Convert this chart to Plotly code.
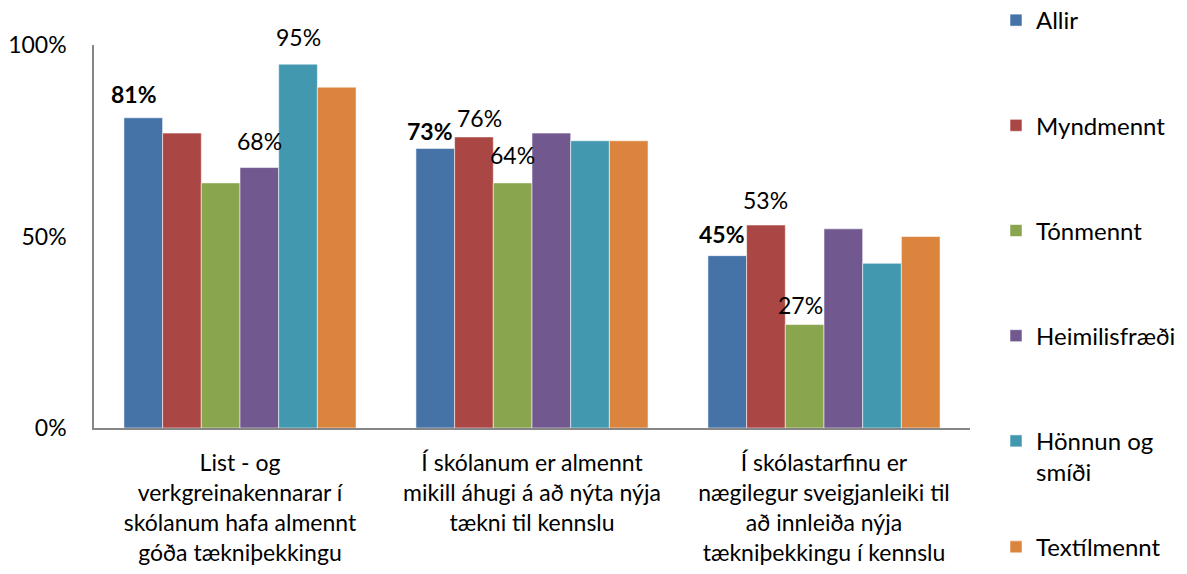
import plotly.graph_objects as go

categories = [
    "List - og<br>verkgreinakennarar í<br>skólanum hafa almennt<br>góða tækniþekkingu",
    "Í skólanum er almennt<br>mikill áhugi á að nýta nýja<br>tækni til kennslu",
    "Í skólastarfinu er<br>nægilegur sveigjanleiki til<br>að innleiða nýja<br>tækniþekkingu í kennslu",
]
series_names = ["Allir", "Myndmennt", "Tónmennt", "Heimilisfræði", "Hönnun og smíði", "Textílmennt"]
legend_names = ["Allir", "Myndmennt", "Tónmennt", "Heimilisfræði", "Hönnun og<br>smíði", "Textílmennt"]

allir = [81, 73, 45]
myndmennt = [77, 76, 53]
tonmennt = [64, 64, 27]
heimilisfraedi = [68, 77, 52]
honnun_smidi = [95, 75, 43]
textilmennt = [89, 75, 50]
values = [allir, myndmennt, tonmennt, heimilisfraedi, honnun_smidi, textilmennt]

y_tick_vals = [0, 50, 100]
y_tick_text = ["0%", "50%", "100%"]

# which bars carry a value label
show_label = [
    [True, True, True],
    [False, True, True],
    [False, True, True],
    [True, False, False],
    [True, False, False],
    [False, False, False],
]

# styling
colors = ["#4572A7", "#AA4643", "#89A54E", "#71588F", "#4198AF", "#DB843D"]
legend_ids = ["legend", "legend", "legend", "legend", "legend", "legend2"]
label_shift = [
    [(-9, 24), (-5, 17), (-5, 22)],
    [None, (6, 19), (0, 25)],
    [None, (0, 28), (-4, 20)],
    [(0, 27), None, None],
    [(0, 27), None, None],
    [None, None, None],
]
FONT = "Lato"
BARGAP = 0.205
W, H = 1179, 566  # page adds an 8px body margin

fig = go.Figure()
for i, (name, lname, vals) in enumerate(zip(series_names, legend_names, values)):
    fig.add_trace(go.Bar(
        x=categories, y=vals, name=lname, legendgroup=name, legend=legend_ids[i],
        marker=dict(color=colors[i], line=dict(color="rgba(255,255,255,0.55)", width=1)),
        hoverinfo="y+name",
    ))

n = len(series_names)
w = (1 - BARGAP) / n
annotations = []
for i, vals in enumerate(values):
    for j, v in enumerate(vals):
        if show_label[i][j]:
            xs, ys = label_shift[i][j]
            txt = f"{v}%"
            if i == 0:
                txt = f"<b>{txt}</b>"
            annotations.append(dict(
                x=j + (i - (n - 1) / 2) * w, y=v, xref="x", yref="y",
                text=txt, showarrow=False, xshift=xs, yshift=ys,
                yanchor="middle", xanchor="center",
                font=dict(family=FONT, size=23, color="#000000"),
            ))

legend_style = dict(
    xref="container", x=0.838,
    xanchor="left", yanchor="top",
    font=dict(family=FONT, size=24, color="#000000"),
    valign="top", traceorder="grouped",
    bgcolor="rgba(0,0,0,0)", maxheight=H,
)

fig.update_layout(
    width=W, height=H,
    margin=dict(l=86, r=217, t=37, b=146, autoexpand=False),
    paper_bgcolor="white", plot_bgcolor="white",
    barmode="group", bargap=BARGAP, bargroupgap=0,
    font=dict(family=FONT, size=23, color="#000000"),
    annotations=annotations,
    legend=dict(legend_style, yref="paper", y=1.1227, tracegroupgap=71),
    legend2=dict(legend_style, yref="container", y=0.087),
)
fig.update_xaxes(
    showline=True, linecolor="#868686", linewidth=1.5, automargin=False,
    showgrid=False, ticks="", ticklabelstandoff=14,
    tickfont=dict(family=FONT, size=23, color="#000000"),
)
fig.update_yaxes(
    range=[0, 100], tickmode="array", tickvals=y_tick_vals, ticktext=y_tick_text,
    showline=True, linecolor="#868686", linewidth=1.5, automargin=False,
    showgrid=False, ticks="", ticklabelstandoff=21, zeroline=False,
    tickfont=dict(family=FONT, size=23, color="#000000"),
)

fig.write_html("out.html")
